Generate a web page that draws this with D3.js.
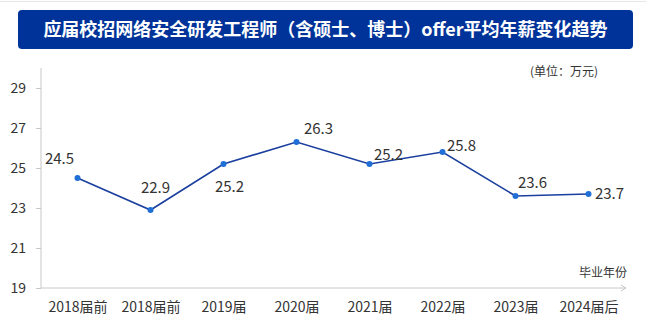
<!DOCTYPE html>
<html><head><meta charset="utf-8">
<script src="https://cdn.jsdelivr.net/npm/d3@7"></script>
<style>
html,body{margin:0;padding:0;background:#fff;}
svg{display:block;font-family:"Noto Sans CJK SC","Noto Sans",sans-serif;}
</style></head>
<body>
<svg id="chart" width="646" height="324"></svg>
<script>
const categories = ["2018届前","2018届前","2019届","2020届","2021届","2022届","2023届","2024届后"];
const salaries = [24.5, 22.9, 25.2, 26.3, 25.2, 25.8, 23.6, 23.7];
const yTicks = [19, 21, 23, 25, 27, 29];
const titleText = "应届校招网络安全研发工程师（含硕士、博士）offer平均年薪变化趋势";
const unitText = "(单位：万元)";
const xAxisName = "毕业年份";
// label placement (dx, dy) relative to each point
const labelOffsets = [[-18,-14],[5,-17],[6,28],[22,-8],[19,-4],[19,-1],[17,-8],[21,5]];

const svg = d3.select("#chart");
// thin top line
svg.append("line").attr("x1",0).attr("x2",646).attr("y1",1.5).attr("y2",1.5)
  .attr("stroke","#e6e6e6").attr("stroke-width",1);

// title box
svg.append("rect").attr("x",18).attr("y",10).attr("width",615).attr("height",39)
  .attr("rx",4).attr("fill","#003399");
svg.append("text").attr("x",325.5).attr("y",36).attr("text-anchor","middle")
  .attr("fill","#fff").attr("font-size",18).attr("font-weight","bold").text(titleText);

const x = d3.scalePoint().domain(d3.range(categories.length)).range([41,625]).padding(0.5);
const y = d3.scaleLinear().domain([19,30]).range([288,68]);

// y axis
const yAxis = svg.append("g").attr("transform","translate(41,0)")
  .call(d3.axisLeft(y).tickValues(yTicks).tickSize(5).tickPadding(10).tickFormat(d3.format("d")));
yAxis.select(".domain").attr("stroke","#c8c8c8").attr("d","M0,68V288");
yAxis.selectAll(".tick line").attr("stroke","#c8c8c8");
yAxis.selectAll(".tick text").attr("fill","#333").attr("font-size",14)
  .attr("font-family","'Noto Sans CJK SC',sans-serif");

// x axis
const xAxis = svg.append("g").attr("transform","translate(0,288)")
  .call(d3.axisBottom(x).tickSize(0).tickPadding(14).tickFormat(i => categories[i]));
xAxis.select(".domain").attr("stroke","#c8c8c8").attr("d","M41,0H626");
xAxis.selectAll(".tick text").attr("fill","#333").attr("font-size",14)
  .attr("font-family","'Noto Sans CJK SC',sans-serif");
// arrow head
svg.append("path").attr("d","M621,285L626,288L621,291").attr("fill","none")
  .attr("stroke","#c8c8c8").attr("stroke-width",1);

svg.append("text").attr("x",627).attr("y",277).attr("text-anchor","end")
  .attr("fill","#333").attr("font-size",12).text(xAxisName);
svg.append("text").attr("x",598).attr("y",76).attr("text-anchor","end")
  .attr("fill","#333").attr("font-size",12).text(unitText);

// line
const line = d3.line().x((d,i)=>x(i)).y(d=>y(d));
svg.append("path").datum(salaries).attr("d",line).attr("fill","none")
  .attr("stroke","#1a3f9e").attr("stroke-width",1.6);
svg.selectAll("circle.pt").data(salaries).enter().append("circle")
  .attr("class","pt").attr("cx",(d,i)=>x(i)).attr("cy",d=>y(d)).attr("r",3)
  .attr("fill","#1f6fd6");
svg.selectAll("text.lbl").data(salaries).enter().append("text")
  .attr("class","lbl").attr("x",(d,i)=>x(i)+labelOffsets[i][0]).attr("y",(d,i)=>y(d)+labelOffsets[i][1])
  .attr("text-anchor","middle").attr("fill","#333").attr("font-size",15)
  .text(d=>d3.format(".1f")(d));
</script>
</body></html>
